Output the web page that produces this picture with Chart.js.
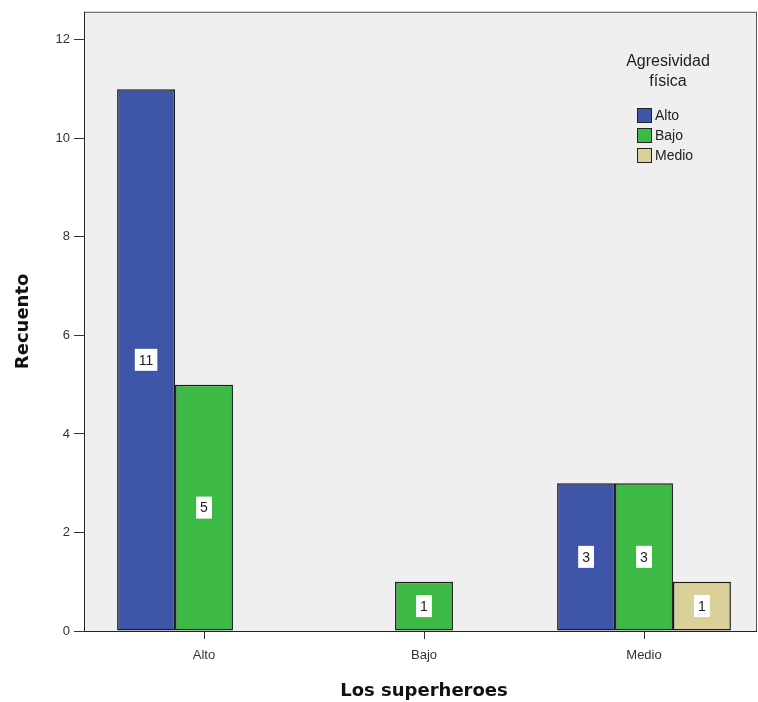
<!DOCTYPE html>
<html>
<head>
<meta charset="utf-8">
<script src="https://cdn.jsdelivr.net/npm/chart.js@4.4.1/dist/chart.umd.min.js"></script>
<style>
  html, body { margin: 0; padding: 0; background: #fff; }
  #wrap { width: 758px; height: 702px; }
</style>
</head>
<body>
<div id="wrap"><canvas id="barChart" width="758" height="702"></canvas></div>
<script>
const categories = ["Alto", "Bajo", "Medio"];
const seriesNames = ["Alto", "Bajo", "Medio"];
const altoValues = [11, null, 3];
const bajoValues = [5, 1, 3];
const medioValues = [null, null, 1];
const yTicks = [0, 2, 4, 6, 8, 10, 12];

const colors = ["#3f55a8", "#3dba45", "#d9d09a"];

// plot background + frame; the frame sits a little outside the category area (SPSS look)
const plotBg = {
  id: "plotBg",
  beforeDatasetsDraw(chart) {
    const { ctx, chartArea: a } = chart;
    const left = a.left - 10, right = a.right + 3;
    ctx.save();
    ctx.fillStyle = "#efefef";
    ctx.fillRect(left, a.top, right - left, a.bottom - a.top);
    ctx.strokeStyle = "#555";
    ctx.lineWidth = 1;
    ctx.strokeRect(left + 0.5, a.top + 0.5, right - left - 1, a.bottom - a.top);
    // axis lines
    ctx.strokeStyle = "#222";
    ctx.beginPath();
    ctx.moveTo(left + 0.5, a.top);
    ctx.lineTo(left + 0.5, a.bottom + 0.5);
    ctx.lineTo(right, a.bottom + 0.5);
    ctx.stroke();
    ctx.restore();
  }
};

// white label boxes in the middle of each bar
const barLabels = {
  id: "barLabels",
  afterDatasetsDraw(chart) {
    const ctx = chart.ctx;
    ctx.save();
    ctx.font = "14px 'Liberation Sans', Arial, sans-serif";
    ctx.textAlign = "center";
    ctx.textBaseline = "middle";
    chart.data.datasets.forEach((ds, i) => {
      chart.getDatasetMeta(i).data.forEach((bar, j) => {
        const v = ds.data[j];
        if (v == null) return;
        const yMid = (bar.y + bar.base) / 2;
        const txt = String(v);
        const w = ctx.measureText(txt).width + 8;
        ctx.fillStyle = "#fff";
        ctx.fillRect(bar.x - w / 2, yMid - 11, w, 22);
        ctx.fillStyle = "#222";
        ctx.fillText(txt, bar.x, yMid + 1);
      });
    });
    ctx.restore();
  }
};

// legend drawn inside the plot
const spssLegend = {
  id: "spssLegend",
  afterDraw(chart) {
    const ctx = chart.ctx;
    ctx.save();
    ctx.fillStyle = "#222";
    ctx.font = "16px 'Liberation Sans', Arial, sans-serif";
    ctx.textAlign = "center";
    ctx.textBaseline = "middle";
    ctx.fillText("Agresividad", 668, 62);
    ctx.fillText("física", 668, 82);
    ctx.font = "14px 'Liberation Sans', Arial, sans-serif";
    ctx.textAlign = "left";
    chart.data.datasets.forEach((ds, i) => {
      const y = 115 + i * 20;
      ctx.fillStyle = ds.backgroundColor;
      ctx.fillRect(637, y - 7, 14, 14);
      ctx.strokeStyle = "#222";
      ctx.lineWidth = 1;
      ctx.strokeRect(637.5, y - 6.5, 14, 14);
      ctx.fillStyle = "#222";
      ctx.fillText(ds.label, 655, y + 1);
    });
    ctx.restore();
  }
};

new Chart(document.getElementById("barChart"), {
  type: "bar",
  data: {
    labels: categories,
    datasets: [
      { label: seriesNames[0], data: altoValues, backgroundColor: colors[0] },
      { label: seriesNames[1], data: bajoValues, backgroundColor: colors[1] },
      { label: seriesNames[2], data: medioValues, backgroundColor: colors[2] }
    ]
  },
  options: {
    responsive: false,
    animation: false,
    layout: { padding: { top: 10, right: 4, left: 0, bottom: 0 } },
    datasets: {
      bar: {
        categoryPercentage: 0.79, barPercentage: 1.0,
        borderColor: "#1a1a1a", borderWidth: 1.5, borderSkipped: false
      }
    },
    plugins: {
      legend: { display: false },
      tooltip: { enabled: false }
    },
    scales: {
      x: {
        grid: { offset: false, drawOnChartArea: false, drawTicks: true, tickLength: 8, color: "#333" },
        border: { display: false },
        ticks: { color: "#333", font: { size: 13, family: "'Liberation Sans', Arial, sans-serif" }, padding: 9 },
        title: {
          display: true, text: "Los superheroes", color: "#111",
          font: { size: 18, weight: "bold", family: "'DejaVu Sans', sans-serif" },
          padding: { top: 8, bottom: 0 }
        },
        afterFit(scale) { scale.height = 71; }
      },
      y: {
        min: 0,
        max: 12.57,
        afterBuildTicks(scale) { scale.ticks = yTicks.map(v => ({ value: v })); },
        grid: { drawOnChartArea: false, drawTicks: true, tickLength: 20, color: "#333" },
        border: { display: false },
        ticks: { color: "#333", font: { size: 13, family: "'Liberation Sans', Arial, sans-serif" }, padding: 4 },
        title: {
          display: true, text: "Recuento", color: "#111",
          font: { size: 18, weight: "bold", family: "'DejaVu Sans', sans-serif" },
          padding: { top: 13, bottom: 0 }
        },
        afterFit(scale) { scale.width = 94; }
      }
    }
  },
  plugins: [plotBg, barLabels, spssLegend]
});
</script>
</body>
</html>
